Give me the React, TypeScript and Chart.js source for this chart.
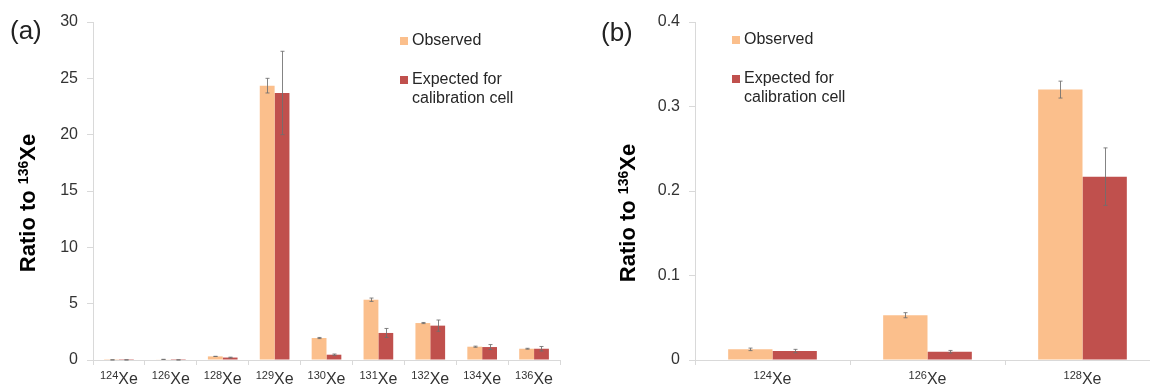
import React, { useEffect, useRef } from 'react';
import { Chart, registerables } from 'chart.js';

Chart.register(...registerables);

// ---- data ----
const massNumbers = ['124', '126', '128', '129', '130', '131', '132', '134', '136'];
const elementSymbol = 'Xe';
const observed = [0.0126, 0.053, 0.32, 24.35, 1.95, 5.35, 3.28, 1.18, 1.0];
const observedErr = [0.0015, 0.003, 0.01, 0.65, 0.05, 0.15, 0.05, 0.05, 0.04];
const expected = [0.0106, 0.0098, 0.217, 23.7, 0.47, 2.4, 3.05, 1.15, 1.0];
const expectedErr = [0.002, 0.0015, 0.034, 3.7, 0.06, 0.4, 0.5, 0.22, 0.2];
const seriesLabels = ['Observed', 'Expected for\ncalibration cell'];
const panelBIsotopeCount = 3;
const yMaxA = 30;
const yStepA = 5;
const yMaxB = 0.4;
const yStepB = 0.1;
const yTitleParts = ['Ratio to ', '136', 'Xe']; // text, superscript, text
const panelLabels = ['(a)', '(b)'];

const OBS_COLOR = '#FBBF8C';
const EXP_COLOR = '#C0504D';
const AXIS_COLOR = '#D9D9D9';
const FONT = '"Liberation Sans", Arial, sans-serif';

const errorBarPlugin = {
  id: 'errorBars',
  afterDatasetsDraw(chart: any, _args: any, opts: any) {
    const errs: number[][] = opts.errors || [];
    const ctx = chart.ctx;
    const y = chart.scales.y;
    ctx.save();
    ctx.strokeStyle = 'rgba(110,110,110,0.85)';
    ctx.lineWidth = 1;
    chart.data.datasets.forEach((ds: any, i: number) => {
      const meta = chart.getDatasetMeta(i);
      meta.data.forEach((el: any, j: number) => {
        const v = ds.data[j];
        const e = errs[i] ? errs[i][j] : 0;
        if (!e) return;
        const x = Math.round(el.x) + 0.5;
        const yt = y.getPixelForValue(v + e);
        const yb = y.getPixelForValue(v - e);
        ctx.beginPath();
        ctx.moveTo(x, yt);
        ctx.lineTo(x, yb);
        ctx.moveTo(x - 2, yt);
        ctx.lineTo(x + 2, yt);
        ctx.moveTo(x - 2, yb);
        ctx.lineTo(x + 2, yb);
        ctx.stroke();
      });
    });
    ctx.restore();
  },
};

const legendPlugin = {
  id: 'customLegend',
  afterDraw(chart: any, _args: any, opts: any) {
    const ctx = chart.ctx;
    const { x, y, gap, lineH } = opts;
    ctx.save();
    ctx.font = `16px ${FONT}`;
    ctx.textBaseline = 'middle';
    ctx.textAlign = 'left';
    let cy = y;
    chart.data.datasets.forEach((ds: any) => {
      ctx.fillStyle = ds.backgroundColor;
      ctx.fillRect(x, cy - 4, 8, 8);
      ctx.fillStyle = '#262626';
      const lines = String(ds.label).split('\n');
      lines.forEach((ln: string, k: number) => {
        ctx.fillText(ln, x + 12, cy + k * lineH);
      });
      cy += gap;
    });
    ctx.restore();
  },
};

// isotope tick labels with real superscript mass numbers
const isotopeTicksPlugin = {
  id: 'isotopeTicks',
  afterDraw(chart: any, _args: any, opts: any) {
    const ctx = chart.ctx;
    const xs = chart.scales.x;
    const masses: string[] = opts.masses || [];
    const baseY = opts.baseline;
    ctx.save();
    ctx.fillStyle = '#333';
    ctx.textBaseline = 'alphabetic';
    ctx.textAlign = 'left';
    masses.forEach((m: string, i: number) => {
      const x = xs.getPixelForValue(i);
      ctx.font = `11px ${FONT}`;
      const w1 = ctx.measureText(m).width;
      ctx.font = `16px ${FONT}`;
      const w2 = ctx.measureText(elementSymbol).width;
      const x0 = x - (w1 + w2) / 2;
      ctx.font = `11px ${FONT}`;
      ctx.fillText(m, x0, baseY - 5);
      ctx.font = `16px ${FONT}`;
      ctx.fillText(elementSymbol, x0 + w1, baseY);
    });
    ctx.restore();
  },
};

// rotated y-axis title with superscript
const yTitlePlugin = {
  id: 'yTitleSup',
  afterDraw(chart: any, _args: any, opts: any) {
    const ctx = chart.ctx;
    const [a, sup, b] = yTitleParts;
    ctx.save();
    ctx.fillStyle = '#000';
    ctx.textBaseline = 'alphabetic';
    ctx.textAlign = 'left';
    const big = `bold 22px ${FONT}`;
    const small = `bold 14px ${FONT}`;
    ctx.font = big;
    const wa = ctx.measureText(a).width;
    const wb = ctx.measureText(b).width;
    ctx.font = small;
    const ws = ctx.measureText(sup).width;
    const total = wa + ws + wb;
    ctx.translate(opts.x, opts.cy);
    ctx.rotate(-Math.PI / 2);
    let x0 = -total / 2;
    ctx.font = big;
    ctx.fillText(a, x0, 0);
    x0 += wa;
    ctx.font = small;
    ctx.fillText(sup, x0, -7);
    x0 += ws;
    ctx.font = big;
    ctx.fillText(b, x0, 0);
    ctx.restore();
  },
};

type PanelProps = {
  masses: string[];
  obs: number[];
  obsErr: number[];
  exp: number[];
  expErr: number[];
  yMax: number;
  yStep: number;
  axisWidth: number;
  titleX: number;
  titleCy: number;
  legendX: number;
  legendY: number;
  left: number;
  width: number;
};

function Panel(p: PanelProps) {
  const ref = useRef<HTMLCanvasElement>(null);
  useEffect(() => {
    if (!ref.current) return;
    const chart = new Chart(ref.current, {
      type: 'bar',
      data: {
        labels: p.masses.map((m) => m + elementSymbol),
        datasets: [
          { label: seriesLabels[0], data: p.obs, backgroundColor: OBS_COLOR, borderWidth: 0 },
          { label: seriesLabels[1], data: p.exp, backgroundColor: EXP_COLOR, borderWidth: 0 },
        ],
      },
      options: {
        animation: false,
        responsive: false,
        maintainAspectRatio: false,
        datasets: { bar: { barPercentage: 1, categoryPercentage: 0.572 } },
        layout: { padding: { top: 22, right: 15, bottom: 0, left: 0 } },
        plugins: {
          legend: { display: false },
          tooltip: { enabled: false },
          errorBars: { errors: [p.obsErr, p.expErr] },
          customLegend: { x: p.legendX, y: p.legendY, gap: 39, lineH: 19 },
          isotopeTicks: { masses: p.masses, baseline: 384 },
          yTitleSup: { x: p.titleX, cy: p.titleCy },
        } as any,
        scales: {
          x: {
            grid: { display: true, drawOnChartArea: false, drawTicks: true, tickLength: 5, color: AXIS_COLOR, offset: true },
            border: { display: true, color: AXIS_COLOR },
            ticks: { display: false },
            afterFit: (s: any) => { s.height = 29; },
          },
          y: {
            min: 0,
            max: p.yMax,
            grid: { display: true, drawOnChartArea: false, drawTicks: true, tickLength: 6, color: AXIS_COLOR },
            border: { display: true, color: AXIS_COLOR },
            ticks: { stepSize: p.yStep, color: '#333', font: { family: FONT, size: 16 }, padding: 9 },
            title: { display: false },
            afterFit: (s: any) => { s.width = p.axisWidth; },
          },
        },
      },
      plugins: [errorBarPlugin, legendPlugin, isotopeTicksPlugin, yTitlePlugin],
    });
    return () => chart.destroy();
  }, []);
  return (
    <canvas
      ref={ref}
      width={p.width}
      height={389}
      style={{ position: 'absolute', left: p.left, top: 0, width: p.width, height: 389 }}
    />
  );
}

export default function App() {
  const nB = panelBIsotopeCount;
  return (
    <div style={{ position: 'absolute', left: 0, top: 0, width: 1150, height: 389, overflow: 'hidden', background: '#fff' }}>
      <Panel
        masses={massNumbers}
        obs={observed}
        obsErr={observedErr}
        exp={expected}
        expErr={expectedErr}
        yMax={yMaxA}
        yStep={yStepA}
        axisWidth={93}
        titleX={35}
        titleCy={203}
        legendX={400}
        legendY={41}
        left={0}
        width={575}
      />
      <Panel
        masses={massNumbers.slice(0, nB)}
        obs={observed.slice(0, nB)}
        obsErr={observedErr.slice(0, nB)}
        exp={expected.slice(0, nB)}
        expErr={expectedErr.slice(0, nB)}
        yMax={yMaxB}
        yStep={yStepB}
        axisWidth={120}
        titleX={60}
        titleCy={213}
        legendX={157}
        legendY={40}
        left={575}
        width={600}
      />
      <div style={{ position: 'absolute', left: 10, top: 17, font: `26px/26px ${FONT}`, color: '#222' }}>{panelLabels[0]}</div>
      <div style={{ position: 'absolute', left: 601, top: 19, font: `26px/26px ${FONT}`, color: '#222' }}>{panelLabels[1]}</div>
    </div>
  );
}
